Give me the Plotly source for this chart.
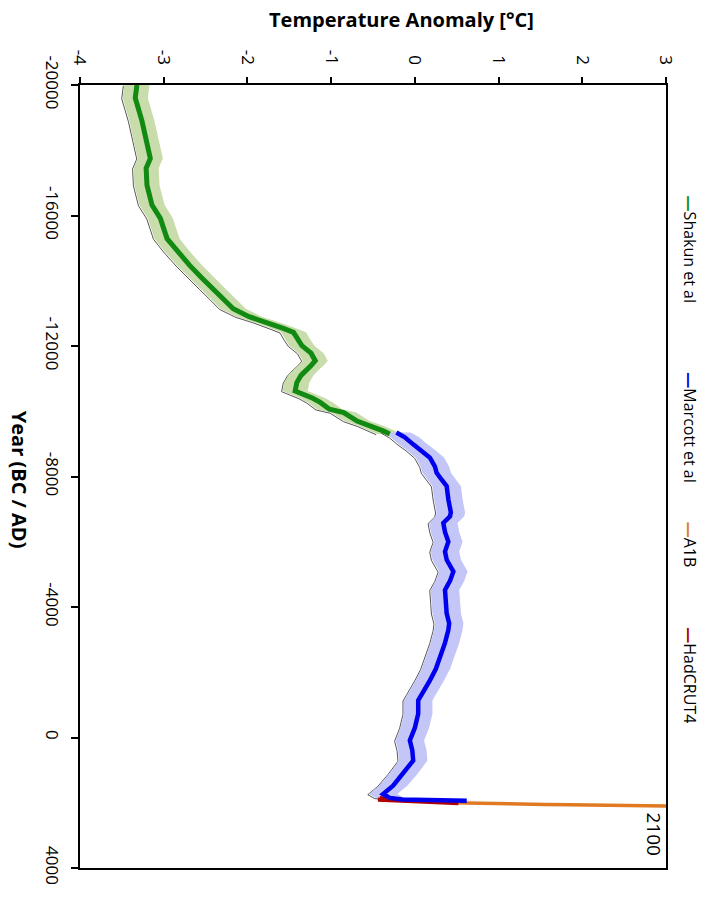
import plotly.graph_objects as go

# ---------------- data ----------------
shakun_year = [-20000, -19600, -18900, -18160, -17750, -17450, -16930, -16320, -15910, -15290,
               -14900, -14470, -14100, -13750, -13450, -13140, -12900, -12730, -12550, -12420,
               -12200, -12010, -11780, -11550, -11400, -11290, -11100, -10880, -10620, -10400,
               -10270, -10060, -9960, -9700, -9550, -9400, -9300]
shakun_temp = [-3.32, -3.34, -3.26, -3.20, -3.16, -3.21, -3.20, -3.14, -3.04, -2.96,
               -2.84, -2.69, -2.55, -2.41, -2.29, -2.17, -1.98, -1.77, -1.58, -1.45,
               -1.40, -1.35, -1.24, -1.19, -1.24, -1.29, -1.36, -1.41, -1.43, -1.22,
               -1.13, -1.02, -0.85, -0.69, -0.52, -0.38, -0.30]
shakun_unc = 0.15

marcott_year = [-9350, -9200, -8985, -8800, -8575, -8300, -8114, -7900, -7704, -7300,
                -6900, -6780, -6576, -6300, -6000, -5700, -5446, -5087, -4800, -4523,
                -4200, -3805, -3500, -3292, -2900, -2471, -2100, -1753, -1400, -1138,
                -728, -300, 92, 400, 708, 1118, 1477, 1733, 1850, 1900, 1940]
marcott_temp = [-0.22, -0.12, -0.02, 0.08, 0.18, 0.24, 0.26, 0.32, 0.38, 0.40,
                0.43, 0.42, 0.34, 0.36, 0.40, 0.36, 0.38, 0.46, 0.42, 0.36,
                0.37, 0.38, 0.41, 0.40, 0.36, 0.30, 0.25, 0.18, 0.10, 0.04,
                0.04, 0.00, -0.06, -0.03, -0.02, -0.14, -0.26, -0.38, -0.30, -0.15, 0.62]
marcott_unc = 0.17

hadcrut_year = [1850, 1880, 1910, 1940, 1970, 1990, 2012]
hadcrut_temp = [-0.42, -0.35, -0.44, -0.10, -0.10, 0.20, 0.52]

a1b_year = [2000, 2010, 2020, 2030, 2040, 2050, 2060, 2070, 2080, 2090, 2100]
a1b_temp = [0.45, 0.60, 0.80, 1.05, 1.30, 1.55, 1.85, 2.15, 2.45, 2.75, 3.00]

temp_ticks = [-4, -3, -2, -1, 0, 1, 2, 3]
temp_ticktext = ["-4", "-3", "-2", "-1", "0", "1", "2", "3"]
year_ticks = [-20000, -16000, -12000, -8000, -4000, 0, 4000]
year_ticktext = ["-20000", "-16000", "-12000", "-8000", "-4000", "0", "4000"]

legend_names = ["Shakun et al", "Marcott et al", "A1B", "HadCRUT4"]
legend_colors = ["#118a11", "#0000ee", "#e07a22", "#b00000"]
legend_pos = [-14985, -9507, -5908, -1907]

FONT = "Open Sans"

fig = go.Figure()


def band(years, temps, unc, fillcolor):
    upper = [t + unc for t in temps]
    lower = [t - unc for t in temps]
    # soft shadow on the lower side
    fig.add_trace(go.Scatter(x=[t - 0.012 for t in lower], y=[y + 20 for y in years], mode="lines",
                             line=dict(color="rgba(30,30,30,0.75)", width=1), showlegend=False,
                             hoverinfo="skip"))
    fig.add_trace(go.Scatter(x=upper + lower[::-1], y=years + years[::-1], fill="toself",
                             fillcolor=fillcolor, line=dict(width=0), mode="lines",
                             showlegend=False, hoverinfo="skip"))


band(shakun_year, shakun_temp, shakun_unc, "#c9dcab")
band(marcott_year, marcott_temp, marcott_unc, "#c3c6f6")

fig.add_trace(go.Scatter(x=shakun_temp, y=shakun_year, mode="lines",
                         line=dict(color=legend_colors[0], width=5), name=legend_names[0]))
fig.add_trace(go.Scatter(x=a1b_temp, y=a1b_year, mode="lines",
                         line=dict(color=legend_colors[2], width=3.5), name=legend_names[2]))
fig.add_trace(go.Scatter(x=hadcrut_temp, y=hadcrut_year, mode="lines",
                         line=dict(color=legend_colors[3], width=4), name=legend_names[3]))
fig.add_trace(go.Scatter(x=marcott_temp, y=marcott_year, mode="lines",
                         line=dict(color=legend_colors[1], width=4.5), name=legend_names[1]))

# legend as rotated annotations
for name, col, pos in zip(legend_names, legend_colors, legend_pos):
    fig.add_annotation(x=1 + (690 - 666) / 586.0, xref="paper", xanchor="center",
                       y=pos, yref="y", yanchor="middle", showarrow=False,
                       textangle=90, text=f"<span style='color:{col}'><b>—</b></span>{name}",
                       font=dict(family=FONT, size=16, color="black"))

# titles
fig.add_annotation(x=0.548, xref="paper", xanchor="center", y=1 + (85 - 20) / 783.0,
                   yref="paper", yanchor="middle", showarrow=False,
                   text="<b>Temperature Anomaly [°C]</b>",
                   font=dict(family=FONT, size=20, color="black"))
fig.add_annotation(x=-(80 - 19) / 586.0, xref="paper", xanchor="center", y=-7900, yref="y",
                   yanchor="middle", showarrow=False, textangle=90,
                   text="<b>Year (BC / AD)</b>",
                   font=dict(family=FONT, size=20, color="black"))
fig.add_annotation(x=2.86, xref="x", xanchor="center", y=2950, yref="y", yanchor="middle",
                   showarrow=False, textangle=90,
                   text="2100", font=dict(family=FONT, size=19, color="black"))

fig.update_layout(
    width=713, height=899,
    margin=dict(l=80, r=47, t=85, b=31),
    paper_bgcolor="white", plot_bgcolor="white",
    showlegend=False,
    xaxis=dict(range=[-4, 3], side="top", tickvals=temp_ticks, ticktext=temp_ticktext,
               tickangle=90, ticks="outside", ticklen=6, tickwidth=2, tickcolor="black",
               showline=True, linecolor="black", linewidth=2, mirror=True,
               showgrid=False, zeroline=False, ticklabelstandoff=6,
               tickfont=dict(family=FONT, size=17, color="black")),
    yaxis=dict(range=[4000, -20000], tickvals=year_ticks, ticktext=year_ticktext,
               tickangle=90, ticks="outside", ticklen=7, tickwidth=2, tickcolor="black",
               showline=True, linecolor="black", linewidth=2, mirror=True,
               showgrid=False, zeroline=False, ticklabelstandoff=5,
               tickfont=dict(family=FONT, size=17, color="black")),
)

fig.write_html("out.html")
